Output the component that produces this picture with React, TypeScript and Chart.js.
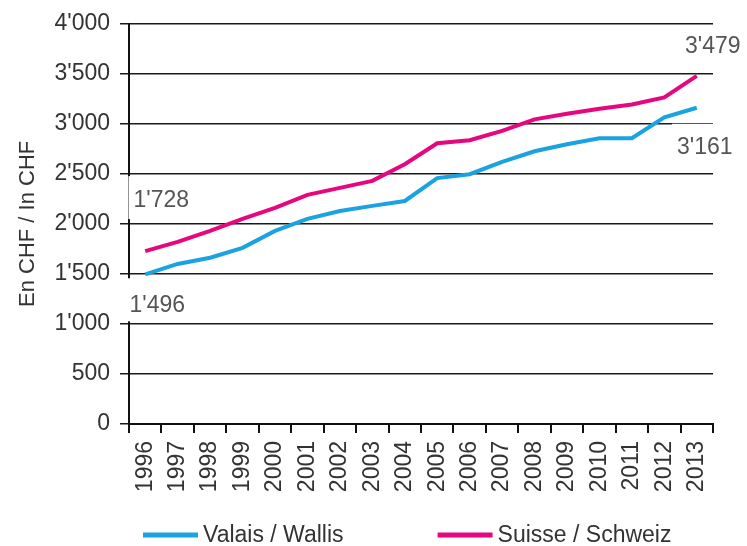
import React, { useEffect, useRef } from "react";
import { Chart, registerables } from "chart.js";

Chart.register(...registerables);

const years = ["1996", "1997", "1998", "1999", "2000", "2001", "2002", "2003", "2004", "2005", "2006", "2007", "2008", "2009", "2010", "2011", "2012", "2013"];
const valais = [1496, 1600, 1662, 1761, 1930, 2050, 2129, 2180, 2229, 2458, 2497, 2620, 2726, 2796, 2856, 2856, 3065, 3161];
const suisse = [1728, 1821, 1930, 2050, 2160, 2290, 2360, 2430, 2597, 2806, 2836, 2930, 3045, 3100, 3150, 3194, 3264, 3479];
const seriesLabels = ["Valais / Wallis", "Suisse / Schweiz"];
const seriesColors = ["#1aa3e0", "#e6077f"];
const yTitle = "En CHF / In CHF";

const FONT = "'Liberation Sans', Arial, Helvetica, sans-serif";

function fmt(v: number): string {
  if (v >= 1000) {
    const t = Math.floor(v / 1000);
    const r = Math.round(v % 1000);
    return `${t}'${String(r).padStart(3, "0")}`;
  }
  return String(v);
}

const endLabelsPlugin = {
  id: "endLabels",
  beforeDatasetsDraw(chart: any) {
    const ctx = chart.ctx;
    const xs = chart.scales.x;
    const ys = chart.scales.y;
    const last = years.length - 1;
    const items = [
      { v: suisse[0], i: 0, dx: 16, dy: -51, up: 24, down: 19 },
      { v: valais[0], i: 0, dx: 12, dy: 30, up: 26, down: 17 },
      { v: suisse[last], i: last, dx: 16, dy: -30, up: 18, down: 18 },
      { v: valais[last], i: last, dx: 8, dy: 39, up: 23, down: 20 },
    ];
    ctx.save();
    ctx.font = `23px ${FONT}`;
    ctx.textAlign = "center";
    ctx.textBaseline = "middle";
    items.forEach((it) => {
      const px = xs.getPixelForValue(it.i) + it.dx;
      const py = ys.getPixelForValue(it.v) + it.dy;
      const txt = fmt(it.v);
      const w = ctx.measureText(txt).width;
      ctx.fillStyle = "#ffffff";
      ctx.fillRect(px - w / 2 - 5, py - it.up, w + 10, it.up + it.down);
      ctx.fillStyle = "#555555";
      ctx.fillText(txt, px, py + 1);
    });
    ctx.restore();
  },
};

const legendPlugin = {
  id: "customLegend",
  afterDraw(chart: any) {
    const ctx = chart.ctx;
    ctx.save();
    ctx.font = `23px ${FONT}`;
    ctx.textBaseline = "middle";
    ctx.textAlign = "left";
    let x = 143;
    const y = 535;
    chart.data.datasets.forEach((ds: any) => {
      ctx.strokeStyle = ds.borderColor;
      ctx.lineWidth = 5;
      ctx.lineCap = "butt";
      ctx.beginPath();
      ctx.moveTo(x, y);
      ctx.lineTo(x + 55, y);
      ctx.stroke();
      ctx.fillStyle = "#333333";
      ctx.fillText(ds.label, x + 60, y + 1);
      x += 60 + ctx.measureText(ds.label).width + 94;
    });
    ctx.restore();
  },
};

export default function App() {
  const ref = useRef<HTMLCanvasElement | null>(null);
  useEffect(() => {
    if (!ref.current) return;
    const chart = new Chart(ref.current, {
      type: "line",
      data: {
        labels: years,
        datasets: [
          {
            label: seriesLabels[0],
            data: valais,
            borderColor: seriesColors[0],
            backgroundColor: seriesColors[0],
            borderWidth: 4,
            pointRadius: 0,
            tension: 0,
          },
          {
            label: seriesLabels[1],
            data: suisse,
            borderColor: seriesColors[1],
            backgroundColor: seriesColors[1],
            borderWidth: 4,
            pointRadius: 0,
            tension: 0,
          },
        ],
      },
      options: {
        responsive: false,
        animation: false,
        layout: { padding: { top: 22, right: 34, left: 0, bottom: 0 } },
        plugins: {
          legend: { display: false },
          tooltip: { enabled: false },
        },
        scales: {
          x: {
            offset: true,
            grid: {
              display: true,
              drawOnChartArea: false,
              drawTicks: true,
              tickLength: 9,
              offset: true,
              color: "#111111",
              lineWidth: 2,
            },
            border: { display: true, color: "#111111", width: 2 },
            ticks: {
              minRotation: 90,
              maxRotation: 90,
              autoSkip: false,
              padding: 8,
              color: "#333333",
              font: { family: FONT, size: 23 },
            },
            afterFit: (s: any) => {
              s.height = 122;
            },
          },
          y: {
            min: 0,
            max: 4000,
            grid: {
              color: "#1a1a1a",
              lineWidth: 1.5,
              tickLength: 9,
              drawTicks: true,
            },
            border: { display: true, color: "#111111", width: 2 },
            ticks: {
              stepSize: 500,
              padding: 10,
              color: "#333333",
              font: { family: FONT, size: 23 },
              callback: (v: any) => fmt(Number(v)),
            },
            title: {
              display: true,
              text: yTitle,
              color: "#333333",
              font: { family: FONT, size: 22 },
              padding: { top: 15, bottom: 0 },
            },
            afterFit: (s: any) => {
              s.width = 129;
            },
          },
        },
      },
      plugins: [endLabelsPlugin, legendPlugin],
    });
    return () => chart.destroy();
  }, []);
  return (
    <div style={{ position: "absolute", left: 0, top: 0, width: 747, height: 546, background: "#fff" }}>
      <canvas ref={ref} width={747} height={546} style={{ display: "block" }} />
    </div>
  );
}
